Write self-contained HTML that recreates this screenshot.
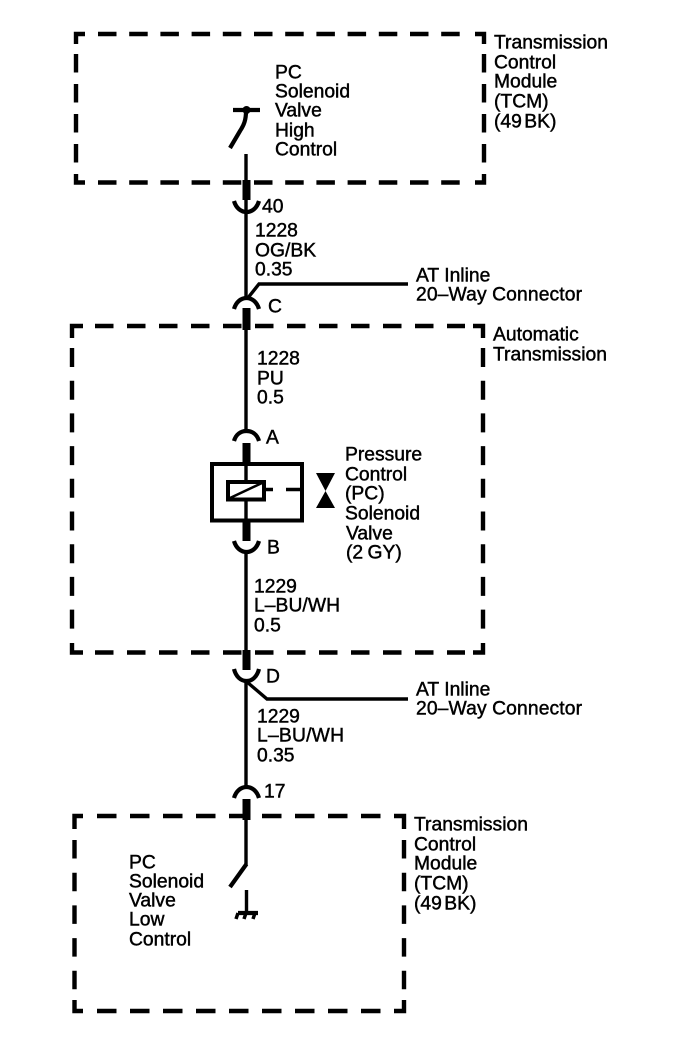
<!DOCTYPE html>
<html>
<head>
<meta charset="utf-8">
<style>
html,body{margin:0;padding:0;background:#fff;width:688px;height:1052px;overflow:hidden}
svg{display:block}
text{font-family:"Liberation Sans",sans-serif;font-size:19.3px;fill:#000;stroke:#000;stroke-width:.45}
.d{stroke:#000;stroke-width:4.4;fill:none;stroke-linejoin:miter}
.w{stroke:#000;stroke-width:3.4;fill:none}
.a{stroke:#000;stroke-width:4.2;fill:none}
.t{stroke:#000;stroke-width:8;fill:none}
</style>
</head>
<body>
<svg width="688" height="1052" viewBox="0 0 688 1052" xmlns="http://www.w3.org/2000/svg">
<!-- Box 1 -->
<path class="d" d="M76 44V34H85M475 34H484V44M76 174V182.500H85M475 182.500H484V174"/>
<path class="d" stroke-dasharray="18.500 12.700" d="M98 34H465M98 182.500H465"/>
<path class="d" stroke-dasharray="18.500 11.500" d="M76 54V165M484 54V165"/>
<!-- Box 2 -->
<path class="d" d="M72 338V326H83M473 326H483V338M72 643V652.500H83M473 652.500H483V643"/>
<path class="d" stroke-dasharray="18.500 13.500" d="M95 326H465M95 652.500H465"/>
<path class="d" stroke-dasharray="19 13.700" d="M72 348V632M483 348V632"/>
<!-- Box 3 -->
<path class="d" d="M74.500 829V816H83M394 816H404V829M74.500 1000V1011H83M394 1011H404V1000"/>
<path class="d" stroke-dasharray="19.500 13.500" d="M97 816H385M97 1011H385"/>
<path class="d" stroke-dasharray="18.500 14.200" d="M74.500 840V990M404 840V990"/>
<!-- Upper switch -->
<path class="a" d="M233 110H260"/>
<circle cx="246.500" cy="110" r="4"/>
<path class="a" d="M246 111C246 120 244 125 240 131L230 148"/>
<!-- Wires -->
<path class="w" d="M246 154V300M246 330V432M246 552V650M246 682V788M246 820V865"/>
<path class="t" d="M246.500 180V200M246.500 308V330M246.500 443V463M246.500 522V541M246.500 650V670M246.500 799V820"/>
<!-- Connector arcs -->
<path class="a" d="M234 201C236 208 241 212 246.500 212S257 208 259 201"/>
<path class="a" d="M234 309C236 302 241 298 246.500 298S257 302 259 309"/>
<path class="a" d="M234 441C236 434 241 431 246.500 431S257 434 259 441"/>
<path class="a" d="M234 541C236 548 241 552 246.500 552S257 548 259 541"/>
<path class="a" d="M234 669C236 677 241 681 246.500 681S257 677 259 669"/>
<path class="a" d="M234 798C236 791 241 787 246.500 787S257 791 259 798"/>
<!-- Branches -->
<path class="w" d="M247 299L259 284H408"/>
<path class="w" d="M247 682L267 699H408"/>
<!-- Solenoid -->
<rect x="212" y="464" width="90" height="56.500" fill="none" stroke="#000" stroke-width="4"/>
<path class="w" d="M246 464V482M246 501V520"/>
<rect x="228" y="482" width="36" height="17.500" fill="none" stroke="#000" stroke-width="4"/>
<path stroke="#000" stroke-width="2.500" fill="none" d="M230 498L262 483"/>
<path class="w" d="M265 489.500H273M286 489.500H300"/>
<path d="M316 473H335L325.500 491L335 508H316L325.500 491Z"/>
<!-- Lower switch -->
<path class="a" d="M246.500 864L230 887"/>
<path class="w" d="M246.500 890V913"/>
<path class="a" d="M238 913H258"/>
<path stroke="#000" stroke-width="3.500" fill="none" d="M238 913L236 919M246 913L244 919M255 913L253 919"/>
<!-- Labels -->
<text x="494" y="48.500">Transmission</text>
<text x="494" y="68.500">Control</text>
<text x="494" y="87.500">Module</text>
<text x="494" y="107.500">(TCM)</text>
<text x="494" y="127.500" word-spacing="-3">(49 BK)</text>
<text x="275" y="78.500">PC</text>
<text x="275" y="97.500">Solenoid</text>
<text x="275" y="116.500">Valve</text>
<text x="275" y="136.500">High</text>
<text x="275" y="155.500">Control</text>
<text x="262" y="212.500">40</text>
<text x="255" y="236.500">1228</text>
<text x="255" y="256.500">OG/BK</text>
<text x="255" y="275.500">0.35</text>
<text x="268" y="312.500">C</text>
<text x="416" y="281.500">AT Inline</text>
<text x="416" y="300.500" textLength="166">20–Way Connector</text>
<text x="493" y="340.500">Automatic</text>
<text x="493" y="360.500">Transmission</text>
<text x="257" y="364.500">1228</text>
<text x="257" y="384.500">PU</text>
<text x="257" y="403.500">0.5</text>
<text x="266" y="443.500">A</text>
<text x="345" y="460.500">Pressure</text>
<text x="345" y="480.500">Control</text>
<text x="345" y="499.500">(PC)</text>
<text x="345" y="519.500">Solenoid</text>
<text x="346" y="539.500">Valve</text>
<text x="346" y="558.500" word-spacing="-1">(2 GY)</text>
<text x="267" y="553.500">B</text>
<text x="254" y="592.500">1229</text>
<text x="254" y="611.500" textLength="86">L–BU/WH</text>
<text x="254" y="631.500">0.5</text>
<text x="266" y="682.500">D</text>
<text x="416" y="695.500">AT Inline</text>
<text x="416" y="714.500" textLength="166">20–Way Connector</text>
<text x="257" y="722.500">1229</text>
<text x="257" y="741.500" textLength="87">L–BU/WH</text>
<text x="257" y="761.500">0.35</text>
<text x="264" y="797.500">17</text>
<text x="414" y="830.500">Transmission</text>
<text x="414" y="850.500">Control</text>
<text x="414" y="869.500">Module</text>
<text x="414" y="889.500">(TCM)</text>
<text x="414" y="909.500" word-spacing="-3">(49 BK)</text>
<text x="129" y="868.500">PC</text>
<text x="129" y="887.500">Solenoid</text>
<text x="129" y="906.500">Valve</text>
<text x="129" y="925.500">Low</text>
<text x="129" y="945.500">Control</text>
</svg>
</body>
</html>
